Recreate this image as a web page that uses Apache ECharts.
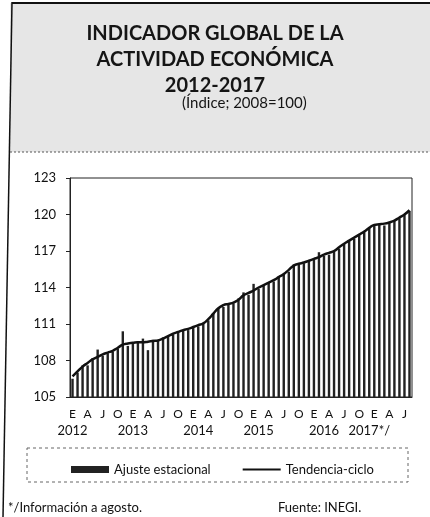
<!DOCTYPE html>
<html>
<head>
<meta charset="utf-8">
<script src="https://cdn.jsdelivr.net/npm/echarts@6/dist/echarts.min.js"></script>
<style>
  html, body { margin: 0; padding: 0; background: #fff; }
  #chart { width: 430px; height: 517px; }
</style>
</head>
<body>
<div id="chart"></div>
<script>
// 月份（E=enero ... D=diciembre），2012-01 到 2017-08
const monthLetters = ['E', 'F', 'M', 'A', 'M', 'J', 'J', 'A', 'S', 'O', 'N', 'D'];
const years = [2012, 2013, 2014, 2015, 2016, 2017];

// 年份标签及其所在的类目位置（按原图位置估读）
const yearLabels = ['2012', '2013', '2014', '2015', '2016', '2017*/'];
const yearLabelIndex = [0, 12, 25, 37, 50, 59];

// 季节调整（柱）
const ajusteEstacional = [
    106.5, 107.0, 107.6, 107.6, 108.2, 108.9, 108.4, 108.6, 108.7, 109.0, 110.4, 109.2,
    109.4, 109.6, 109.8, 108.85, 109.7, 109.6, 109.9, 110.0, 110.1, 110.4, 110.5, 110.5,
    110.8, 110.8, 111.0, 111.3, 111.9, 112.3, 112.4, 112.7, 112.7, 113.1, 113.6, 113.4,
    114.3, 113.9, 114.2, 114.4, 114.5, 114.9, 115.1, 115.3, 115.9, 115.9, 116.0, 116.2,
    116.3, 116.9, 116.6, 116.7, 117.0, 117.2, 117.6, 117.9, 118.0, 118.4, 118.6, 118.9,
    119.1, 119.2, 119.1, 119.3, 119.5, 119.7, 120.0, 120.3
];

// 趋势-周期（线）
const tendenciaCiclo = [
    106.7, 107.1, 107.5, 107.8, 108.1, 108.3, 108.5, 108.65, 108.8, 109.05, 109.3, 109.4,
    109.45, 109.5, 109.5, 109.55, 109.6, 109.65, 109.8, 110.0, 110.2, 110.35, 110.5, 110.6,
    110.75, 110.9, 111.05, 111.4, 111.85, 112.3, 112.55, 112.65, 112.75, 113.0, 113.35, 113.55,
    113.75, 114.0, 114.2, 114.4, 114.6, 114.85, 115.1, 115.45, 115.8, 115.95, 116.05, 116.2,
    116.35, 116.5, 116.7, 116.85, 117.0, 117.3, 117.6, 117.85, 118.1, 118.35, 118.6, 118.9,
    119.15, 119.2, 119.25, 119.35, 119.5, 119.75, 120.0, 120.35
];

// 生成类目
const categories = [];
years.forEach(y => {
    monthLetters.forEach(m => {
        if (categories.length < ajusteEstacional.length) {
            categories.push(m);
        }
    });
});

const chart = echarts.init(document.getElementById('chart'));

const textFont = 'Lato, "Open Sans", sans-serif';

const option = {
    backgroundColor: '#fff',
    animation: false,
    textStyle: { fontFamily: textFont, color: '#111' },
    graphic: [
        // 标题背景
        {
            type: 'rect',
            shape: { x: 10, y: 3, width: 420, height: 149 },
            style: { fill: '#e6e6e6' },
            z: -10
        },
        {
            type: 'line',
            shape: { x1: 12, y1: 3, x2: 430, y2: 3 },
            style: { stroke: '#111', lineWidth: 2 }
        },
        {
            type: 'line',
            shape: { x1: 12, y1: 2, x2: 3, y2: 517 },
            style: { stroke: '#111', lineWidth: 1.5 }
        },
        {
            type: 'line',
            shape: { x1: 10, y1: 152, x2: 430, y2: 152 },
            style: { stroke: '#555', lineWidth: 1, lineDash: [2, 2] }
        },
        {
            type: 'text',
            left: 'center',
            top: 21,
            style: {
                text: 'INDICADOR GLOBAL DE LA\nACTIVIDAD ECONÓMICA\n2012-2017',
                font: 'bold 20px ' + textFont,
                fill: '#151515',
                textAlign: 'center',
                lineHeight: 26
            }
        },
        {
            type: 'text',
            left: 182,
            top: 96,
            style: {
                text: '(Índice; 2008=100)',
                font: '15px ' + textFont,
                fill: '#151515'
            }
        },
        // 图例边框
        {
            type: 'rect',
            shape: { x: 27, y: 448, width: 381, height: 34 },
            style: { fill: 'none', stroke: '#666', lineWidth: 1, lineDash: [3, 3] }
        },
        {
            type: 'text',
            left: 8,
            top: 501,
            style: { text: '*/Información a agosto.', font: '13px ' + textFont, fill: '#111' }
        },
        {
            type: 'text',
            left: 278,
            top: 501,
            style: { text: 'Fuente: INEGI.', font: '13px ' + textFont, fill: '#111' }
        }
    ],
    legend: {
        left: 66,
        top: 458,
        itemGap: 32,
        itemWidth: 38,
        itemHeight: 7,
        symbolKeepAspect: true,
        textStyle: { fontSize: 13, color: '#111', fontFamily: textFont },
        data: [
            { name: 'Ajuste estacional', icon: 'rect' },
            { name: 'Tendencia-ciclo', icon: 'path://M0,0 L40,0 L40,2.2 L0,2.2 Z' }
        ]
    },
    grid: {
        left: 70,
        right: 18,
        top: 178,
        bottom: 120,
        show: true,
        borderColor: '#222',
        borderWidth: 1
    },
    xAxis: [
        {
            type: 'category',
            data: categories,
            boundaryGap: true,
            axisLine: { lineStyle: { color: '#222', width: 1 } },
            axisTick: { interval: 0, length: 4, lineStyle: { color: '#222' } },
            axisLabel: {
                interval: 2,
                margin: 11,
                fontSize: 12,
                color: '#111',
                fontFamily: textFont
            }
        },
        {
            type: 'category',
            data: categories,
            position: 'bottom',
            boundaryGap: true,
            axisLine: { show: false },
            axisTick: { show: false },
            axisLabel: {
                interval: function (index) {
                    return yearLabelIndex.indexOf(index) >= 0;
                },
                formatter: function (value, index) {
                    const k = yearLabelIndex.indexOf(index);
                    return k >= 0 ? yearLabels[k] : '';
                },
                margin: 27,
                fontSize: 13,
                color: '#111',
                fontFamily: textFont
            }
        }
    ],
    yAxis: {
        type: 'value',
        min: 105,
        max: 123,
        interval: 3,
        axisLine: { show: true, lineStyle: { color: '#222', width: 1 } },
        axisTick: { show: true, length: 4, lineStyle: { color: '#222' } },
        splitLine: { show: false },
        axisLabel: {
            margin: 14,
            fontSize: 13,
            color: '#111',
            fontFamily: textFont
        }
    },
    series: [
        {
            name: 'Ajuste estacional',
            type: 'bar',
            data: ajusteEstacional,
            barWidth: '48%',
            itemStyle: { color: '#222' },
            z: 2
        },
        {
            name: 'Tendencia-ciclo',
            type: 'line',
            data: tendenciaCiclo,
            smooth: true,
            showSymbol: false,
            symbol: 'none',
            lineStyle: { color: '#111', width: 2.5 },
            itemStyle: { color: '#111' },
            z: 3
        }
    ]
};

chart.setOption(option);
</script>
</body>
</html>
